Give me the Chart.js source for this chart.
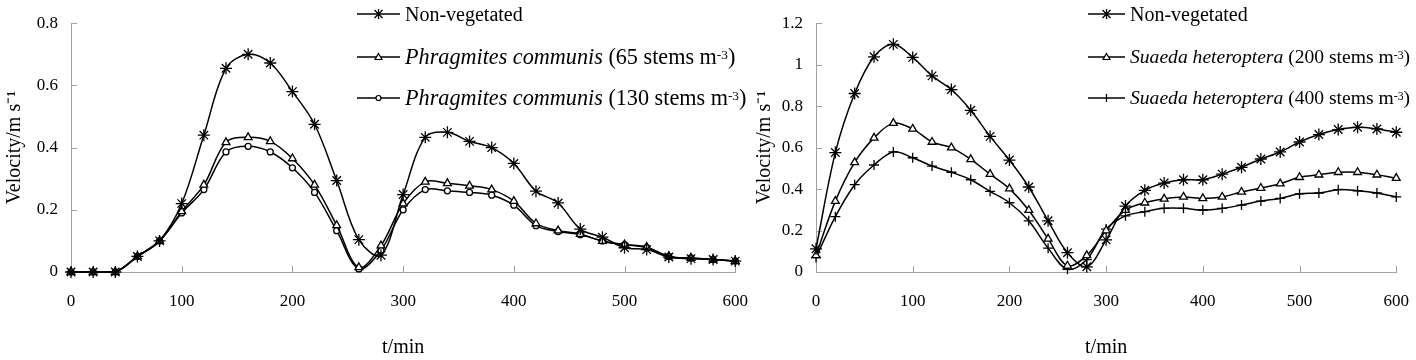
<!DOCTYPE html>
<html lang="en">
<head>
<meta charset="UTF-8">
<title>Velocity over time</title>
<script src="https://cdn.jsdelivr.net/npm/chart.js"></script>
<style>
    body {
        margin: 0;
        width: 1416px;
        height: 360px;
        position: relative;
        overflow: hidden;
        background: #fff;
        font-family: "Liberation Serif", "Times New Roman", serif;
    }
    .box { position: absolute; top: 0; height: 360px; }
    #boxL { left: 0; width: 767px; }
    #boxR { left: 750px; width: 678px; }
    .legend { position: absolute; top: 0; font-size: 20px; color: #000; }
    .legend .row {
        position: absolute;
        left: 0;
        height: 24px;
        display: flex;
        align-items: center;
        white-space: nowrap;
    }
    .legend svg { margin-right: 5px; flex: none; }
    .legend sup { font-size: 0.6em; vertical-align: 0.35em; line-height: 0; }
</style>
</head>
<body>
    <div class="box" id="boxL"><canvas id="chartL" width="767" height="360"></canvas></div>
    <div class="box" id="boxR"><canvas id="chartR" width="678" height="360"></canvas></div>

    <div class="legend" id="legendL" style="left:357px"></div>
    <div class="legend" id="legendR" style="left:1088px"></div>

<script>
const minutes = [0, 20, 40, 60, 80, 100, 120, 140, 160, 180, 200, 220, 240, 260, 280, 300,
                 320, 340, 360, 380, 400, 420, 440, 460, 480, 500, 520, 540, 560, 580, 600];

// left panel: Phragmites communis
const nonVegL = [0, 0, 0, 0.05, 0.10, 0.22, 0.44, 0.655, 0.70, 0.672, 0.58, 0.475, 0.294, 0.104, 0.054,
                 0.249, 0.433, 0.449, 0.42, 0.40, 0.349, 0.26, 0.222, 0.138, 0.112, 0.078, 0.072, 0.048, 0.043, 0.04, 0.035];
const phrag65 = [0, 0, 0, 0.05, 0.10, 0.195, 0.28, 0.417, 0.433, 0.42, 0.365, 0.28, 0.15, 0.015, 0.085,
                 0.22, 0.29, 0.285, 0.277, 0.265, 0.228, 0.156, 0.133, 0.122, 0.099, 0.088, 0.08, 0.05, 0.045, 0.04, 0.035];
const phrag130 = [0, 0, 0, 0.05, 0.10, 0.19, 0.265, 0.386, 0.404, 0.386, 0.335, 0.256, 0.133, 0.01, 0.07,
                  0.20, 0.265, 0.261, 0.256, 0.247, 0.215, 0.149, 0.13, 0.12, 0.10, 0.088, 0.078, 0.05, 0.045, 0.04, 0.035];

// right panel: Suaeda heteroptera
const nonVegR = [0.112, 0.576, 0.861, 1.038, 1.098, 1.035, 0.946, 0.88, 0.78, 0.654, 0.54, 0.41, 0.247, 0.093, 0.025,
                 0.155, 0.318, 0.394, 0.429, 0.445, 0.445, 0.472, 0.505, 0.545, 0.579, 0.627, 0.663, 0.687, 0.698, 0.69, 0.674];
const suaeda200 = [0.08, 0.342, 0.529, 0.647, 0.718, 0.69, 0.627, 0.60, 0.543, 0.472, 0.402, 0.298, 0.16, 0.03, 0.08,
                   0.20, 0.298, 0.334, 0.353, 0.362, 0.355, 0.362, 0.386, 0.405, 0.426, 0.457, 0.469, 0.481, 0.481, 0.469, 0.453];
const suaeda400 = [0.07, 0.267, 0.421, 0.516, 0.579, 0.551, 0.511, 0.481, 0.445, 0.389, 0.334, 0.247, 0.115, 0.013, 0.06,
                   0.207, 0.271, 0.291, 0.307, 0.307, 0.299, 0.307, 0.323, 0.342, 0.355, 0.377, 0.381, 0.397, 0.392, 0.381, 0.362];

const legendL = [
    { style: 'star', species: '', text: 'Non-vegetated', sup: '', size: 20 },
    { style: 'triangle', species: 'Phragmites communis', text: ' (65 stems m', sup: '-3', size: 22.2 },
    { style: 'circle', species: 'Phragmites communis', text: ' (130 stems m', sup: '-3', size: 22.2 }
];
const legendR = [
    { style: 'star', species: '', text: 'Non-vegetated', sup: '', size: 20 },
    { style: 'triangle', species: 'Suaeda heteroptera', text: ' (200 stems m', sup: '-3', size: 19.6 },
    { style: 'cross', species: 'Suaeda heteroptera', text: ' (400 stems m', sup: '-3', size: 19.6 }
];

const axisGray = '#a0a0a0';
const font = 'Liberation Serif';

const markers = {
    star: { pointStyle: 'star', pointRadius: 6, pointBackgroundColor: '#000' },
    triangle: { pointStyle: 'triangle', pointRadius: 4.5, pointBackgroundColor: '#fff' },
    circle: { pointStyle: 'circle', pointRadius: 3, pointBackgroundColor: '#fff' },
    cross: { pointStyle: 'cross', pointRadius: 5, pointBackgroundColor: '#000' }
};

function series(values, style) {
    return Object.assign({
        data: values.map((v, i) => ({ x: minutes[i], y: v })),
        borderColor: '#000',
        borderWidth: 1.5,
        pointBorderColor: '#000',
        pointBorderWidth: 1.3,
        tension: 0.35,
        clip: 12
    }, markers[style]);
}

// tick marks point into the plot
const inwardTicks = {
    id: 'inwardTicks',
    beforeDatasetsDraw(chart) {
        const ctx = chart.ctx;
        const x = chart.scales.x, y = chart.scales.y;
        ctx.save();
        ctx.strokeStyle = axisGray;
        ctx.lineWidth = 1;
        ctx.beginPath();
        x.ticks.forEach(t => {
            const px = Math.round(x.getPixelForValue(t.value)) + 0.5;
            ctx.moveTo(px, y.bottom);
            ctx.lineTo(px, y.bottom - 6);
        });
        y.ticks.forEach(t => {
            const py = Math.round(y.getPixelForValue(t.value)) + 0.5;
            ctx.moveTo(x.left, py);
            ctx.lineTo(x.left + 6, py);
        });
        ctx.stroke();
        ctx.restore();
    }
};

function createChart(id, datasets, yMax, yWidth) {
    return new Chart(document.getElementById(id), {
        type: 'line',
        data: { datasets: datasets },
        plugins: [inwardTicks],
        options: {
            responsive: false,
            animation: false,
            layout: { padding: { top: 19, right: 0, left: 0, bottom: 0 } },
            plugins: { legend: { display: false }, tooltip: { enabled: false } },
            scales: {
                x: {
                    type: 'linear',
                    min: 0, max: 600,
                    ticks: { stepSize: 100, padding: 19, color: '#000', font: { family: font, size: 17 } },
                    grid: { drawOnChartArea: false, drawTicks: false },
                    border: { color: axisGray, width: 1 },
                    title: { display: true, text: 't/min', color: '#000', font: { family: font, size: 20 }, padding: { top: 0, bottom: 0 } },
                    afterFit(scale) { scale.height = 88; }
                },
                y: {
                    min: 0, max: yMax,
                    ticks: {
                        stepSize: 0.2, padding: 13, color: '#000', font: { family: font, size: 17 },
                        callback: v => String(Math.round(v * 10) / 10)
                    },
                    grid: { drawOnChartArea: false, drawTicks: false },
                    border: { color: axisGray, width: 1 },
                    title: { display: true, text: 'Velocity/m s\u207B\u00B9', color: '#000', font: { family: font, size: 20 }, padding: { top: 3, bottom: 0 } },
                    afterFit(scale) { scale.width = yWidth; }
                }
            }
        }
    });
}

createChart('chartL', [
    series(nonVegL, 'star'),
    series(phrag65, 'triangle'),
    series(phrag130, 'circle')
], 0.8, 71);

createChart('chartR', [
    series(nonVegR, 'star'),
    series(suaeda200, 'triangle'),
    series(suaeda400, 'cross')
], 1.2, 66);

function sample(style, w) {
    const c = w / 2;
    let m = '';
    if (style === 'star') {
        m = `<path d="M${c-4} 8 L${c+4} 16 M${c+4} 8 L${c-4} 16 M${c} 7 L${c} 17" stroke="#000" stroke-width="1.3"/>`;
    } else if (style === 'triangle') {
        m = `<path d="M${c} 8.5 L${c+3.5} 14.5 L${c-3.5} 14.5 Z" fill="#fff" stroke="#000" stroke-width="1.2"/>`;
    } else if (style === 'circle') {
        m = `<circle cx="${c}" cy="12" r="2.5" fill="#fff" stroke="#000" stroke-width="1.2"/>`;
    } else if (style === 'cross') {
        m = `<path d="M${c} 8 L${c} 16" stroke="#000" stroke-width="1.3"/>`;
    }
    return `<svg width="${w}" height="24" viewBox="0 0 ${w} 24"><line x1="0" y1="12" x2="${w}" y2="12" stroke="#000" stroke-width="1.6"/>${m}</svg>`;
}

function buildLegend(id, items, lineW, rowTops) {
    const box = document.getElementById(id);
    items.forEach((it, i) => {
        const row = document.createElement('div');
        row.className = 'row';
        row.style.top = rowTops[i] + 'px';
        row.style.fontSize = it.size + 'px';
        let html = sample(it.style, lineW) + '<span>';
        if (it.species) html += '<i>' + it.species + '</i>';
        html += it.text;
        if (it.sup) html += '<sup>' + it.sup + '</sup>)';
        html += '</span>';
        row.innerHTML = html;
        box.appendChild(row);
    });
}

buildLegend('legendL', legendL, 43, [2, 45, 86]);
buildLegend('legendR', legendR, 37, [2, 45, 86]);
</script>
</body>
</html>
